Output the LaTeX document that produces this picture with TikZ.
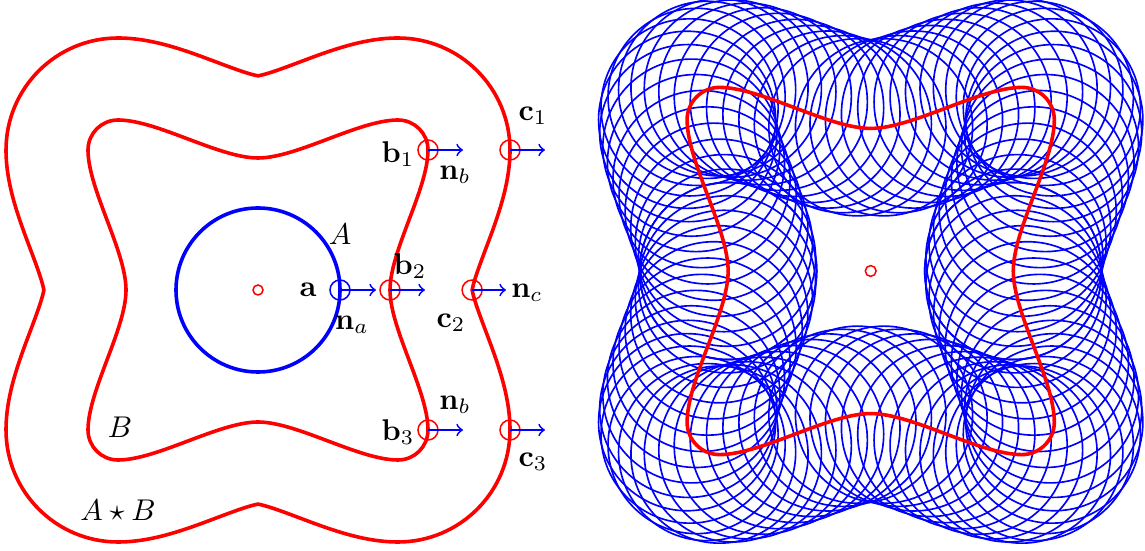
\documentclass[tikz,border=0pt]{standalone}
\usepackage{amsmath}
\usepackage{tikz}

\tikzset{
  redline/.style={red, line width=1.2pt, line cap=round, line join=round},
  blueline/.style={blue, line width=1.2pt},
  ring/.style={blue, line width=0.55pt},
  dot/.style={red, line width=0.5pt},
  bdot/.style={blue, line width=0.5pt},
  nvec/.style={blue, line width=0.6pt, ->},
}

\begin{document}
\begin{tikzpicture}[x=1.1713cm, y=1.1713cm,
  declare function={
    bx(\x)=1.32+0.38*(3*\x*\x-2*\x*\x*\x);
    by(\x)=1.17*\x*(1-\x)^2+3.03*\x*\x*(1-\x)+1.40*\x*\x*\x;
    dx(\x)=2.28*\x*(1-\x);
    dy(\x)=3*(0.39*(1-\x)^2+1.24*\x*(1-\x)+0.39*\x*\x);
    ox(\x)=bx(\x)+0.82*dy(\x)/veclen(dx(\x),dy(\x));
    oy(\x)=by(\x)-0.82*dx(\x)/veclen(dx(\x),dy(\x));
  }]
\useasboundingbox (0,0) rectangle (11.45,5.5);

% left: A, B and A*B
\begin{scope}[shift={(2.58,2.60)}]
\foreach \sx/\sy in {1/1,-1/1,-1/-1,1/-1} {
  \draw[redline, xscale=\sx, yscale=\sy] (1.32,0) .. controls (1.32,0.39) and (1.70,1.01) .. (1.70,1.40)
    arc[start angle=0, end angle=90, radius=0.30] .. controls (1.01,1.70) and (0.39,1.32) .. (0,1.32);
  \draw[redline, xscale=\sx, yscale=\sy] plot[domain=0.115:1, samples=60] ({ox(\x)},{oy(\x)})
    arc[start angle=0, end angle=90, radius=1.12] -- plot[domain=1:0.115, samples=60] ({oy(\x)},{ox(\x)});
}
\coordinate (o1) at (0,0);
\draw[blueline] (o1) circle (0.82);
\draw[dot] (o1) circle (0.05);

\coordinate (a) at (0.82,0);   \coordinate (an) at (1.18,0);
\coordinate (b1) at (1.70,1.40);  \coordinate (b1n) at (2.05,1.40);
\coordinate (b2) at (1.32,0);     \coordinate (b2n) at (1.67,0);
\coordinate (b3) at (1.70,-1.40); \coordinate (b3n) at (2.05,-1.40);
\coordinate (c1) at (2.52,1.40);  \coordinate (c1n) at (2.87,1.40);
\coordinate (c2) at (2.141,0);    \coordinate (c2n) at (2.48,0);
\coordinate (c3) at (2.52,-1.40); \coordinate (c3n) at (2.87,-1.40);

\draw[bdot] (a) circle (0.1);
\draw[nvec] (a) -- (an);
\foreach \p in {b1,b2,b3,c1,c2,c3} {
  \draw[dot] (\p) circle (0.1);
  \draw[nvec] (\p) -- (\p n);
}

\node (lA) at (0.82,0.56) {$A$};
\node (la) at (0.50,0.0) {$\mathbf{a}$};
\node (lna) at (0.94,-0.35) {$\mathbf{n}_a$};
\node (lb1) at (1.40,1.36) {$\mathbf{b}_1$};
\node (lb2) at (1.52,0.24) {$\mathbf{b}_2$};
\node (lb3) at (1.40,-1.42) {$\mathbf{b}_3$};
\node (lnb1) at (1.97,1.15) {$\mathbf{n}_b$};
\node (lnb3) at (1.97,-1.15) {$\mathbf{n}_b$};
\node (lc1) at (2.75,1.74) {$\mathbf{c}_1$};
\node (lc2) at (1.93,-0.33) {$\mathbf{c}_2$};
\node (lc3) at (2.75,-1.72) {$\mathbf{c}_3$};
\node (lnc) at (2.69,-0.03) {$\mathbf{n}_c$};
\node (lB) at (-1.38,-1.37) {$B$};
\node (lAB) at (-1.40,-2.20) {$A\star B$};
\end{scope}

% right: copies of A along B
\begin{scope}[shift={(8.707,2.79)}, scale=1.08]
\foreach \sx/\sy in {1/1,-1/1,-1/-1,1/-1} {
  \begin{scope}[xscale=\sx, yscale=\sy]
  \foreach \t in {0,0.1,...,0.95} {
    \draw[ring] ({bx(\t)},{by(\t)}) circle (0.82);
    \draw[ring] ({by(1-\t)},{bx(1-\t)}) circle (0.82);
  }
  \foreach \a in {0,22.5,45,67.5}
    \draw[ring] ({1.40+0.30*cos(\a)},{1.40+0.30*sin(\a)}) circle (0.82);
  \end{scope}
}
\foreach \sx/\sy in {1/1,-1/1,-1/-1,1/-1}
  \draw[redline, xscale=\sx, yscale=\sy] (1.32,0) .. controls (1.32,0.39) and (1.70,1.01) .. (1.70,1.40)
    arc[start angle=0, end angle=90, radius=0.30] .. controls (1.01,1.70) and (0.39,1.32) .. (0,1.32);
\coordinate (o2) at (0,0);
\draw[dot] (o2) circle (0.05);
\end{scope}

\end{tikzpicture}
\end{document}
